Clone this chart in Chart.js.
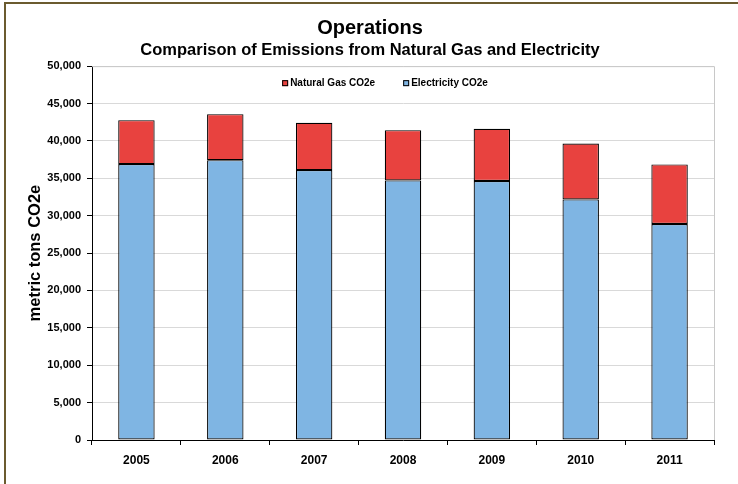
<!DOCTYPE html>
<html>
<head>
<meta charset="utf-8">
<script src="https://cdn.jsdelivr.net/npm/chart.js@4.4.0/dist/chart.umd.min.js"></script>
<style>
  html, body { margin: 0; padding: 0; background: #ffffff; overflow: hidden; }
  #frame { position: absolute; left: 4px; top: 2px; width: 800px; height: 600px;
           border-left: 2px solid #6b5b2f; border-top: 2px solid #6b5b2f; }
  #wrap { position: absolute; left: 0; top: 0; width: 738px; height: 484px; }
</style>
</head>
<body>
<div id="frame"></div>
<div id="wrap"><canvas id="c" width="738" height="484"></canvas></div>
<script>
const categories = ['2005', '2006', '2007', '2008', '2009', '2010', '2011'];
const electricity = [36900, 37430, 36100, 34720, 34630, 32180, 28880];
const naturalGas = [5880, 6150, 6320, 6720, 6990, 7480, 7980];
const yTicks = [0, 5000, 10000, 15000, 20000, 25000, 30000, 35000, 40000, 45000, 50000];

const font = 'Arial, "Liberation Sans", sans-serif';

const inAreaLegend = {
  id: 'inAreaLegend',
  afterDraw(chart) {
    const { ctx, chartArea: a } = chart;
    const items = chart.data.datasets.slice().reverse();
    ctx.save();
    ctx.font = 'bold 10px ' + font;
    ctx.textBaseline = 'middle';
    ctx.textAlign = 'left';
    const box = 6, gapText = 2, gapItems = 28;
    const widths = items.map(d => box + gapText + ctx.measureText(d.label).width);
    const total = widths.reduce((s, w) => s + w, 0) + gapItems * (items.length - 1);
    let x = (a.left + a.right) / 2 - total / 2 - 18;
    const y = a.top + 17;
    items.forEach((d, i) => {
      ctx.fillStyle = d.backgroundColor;
      ctx.fillRect(x, y - box / 2, box, box);
      ctx.strokeStyle = '#000';
      ctx.lineWidth = 1;
      ctx.strokeRect(x + 0.5, y - box / 2 + 0.5, box - 1, box - 1);
      ctx.fillStyle = '#000';
      ctx.fillText(d.label, x + box + gapText, y);
      x += widths[i] + gapItems;
    });
    ctx.restore();
  }
};

new Chart(document.getElementById('c'), {
  type: 'bar',
  data: {
    labels: categories,
    datasets: [
      { label: 'Electricity CO2e', data: electricity, backgroundColor: '#7fb5e3',
        borderColor: '#000000', borderWidth: 1.2, borderSkipped: false,
        barPercentage: 0.41, categoryPercentage: 1.0 },
      { label: 'Natural Gas CO2e', data: naturalGas, backgroundColor: '#e8423f',
        borderColor: '#000000', borderWidth: 1.2, borderSkipped: false,
        barPercentage: 0.41, categoryPercentage: 1.0 }
    ]
  },
  options: {
    responsive: false,
    animation: false,
    devicePixelRatio: 1,
    layout: { padding: { left: 26, right: 24, top: 4, bottom: 10 } },
    plugins: {
      title: { display: true, text: 'Operations', color: '#000',
        font: { family: font, size: 20, weight: 'bold', lineHeight: 1.2 },
        padding: { top: 12, bottom: 0 } },
      subtitle: { display: true, text: 'Comparison of Emissions from Natural Gas and Electricity', color: '#000',
        font: { family: font, size: 16.5, weight: 'bold', lineHeight: 1.1 },
        padding: { top: 1, bottom: 7 } },
      legend: { display: false },
      tooltip: { enabled: false }
    },
    scales: {
      x: {
        stacked: true,
        grid: { display: true, offset: true, drawOnChartArea: false, drawTicks: true,
          tickLength: 5, color: '#000' },
        border: { display: true, color: '#000', width: 1 },
        ticks: { color: '#000', padding: 8, font: { family: font, size: 12, weight: 'bold' } },
        afterFit: (s) => { s.height = 34; }
      },
      y: {
        stacked: true,
        min: 0, max: 50000,
        afterBuildTicks: (s) => { s.ticks = yTicks.map(v => ({ value: v })); },
        grid: { color: '#d9d9d9', lineWidth: 1, tickLength: 5, tickColor: '#000' },
        border: { display: true, color: '#000', width: 1 },
        ticks: { color: '#000', padding: 6, font: { family: font, size: 11, weight: 'bold' },
          callback: (v) => v.toLocaleString('en-US') },
        title: { display: true, text: 'metric tons CO2e', color: '#000', padding: { top: 0, bottom: 3 },
          font: { family: font, size: 16.5, weight: 'bold' } },
        afterFit: (s) => { s.width = 66; }
      }
    }
  },
  plugins: [inAreaLegend, {
    id: 'areaBorder',
    afterDraw(chart) {
      const { ctx, chartArea: a } = chart;
      ctx.save();
      ctx.strokeStyle = '#c8c8c8';
      ctx.lineWidth = 1;
      ctx.beginPath();
      ctx.moveTo(a.left, a.top + 0.5);
      ctx.lineTo(a.right + 0.5, a.top + 0.5);
      ctx.lineTo(a.right + 0.5, a.bottom);
      ctx.stroke();
      ctx.restore();
    }
  }]
});
</script>
</body>
</html>
